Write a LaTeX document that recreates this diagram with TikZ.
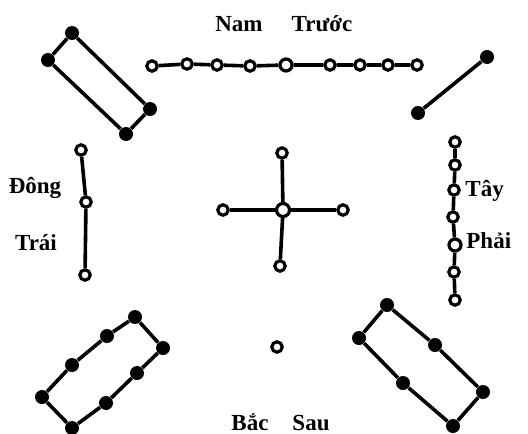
\documentclass[tikz,border=0pt]{standalone}
\usepackage{fontspec}
\setmainfont{Liberation Serif}
\usepackage{tikz}

\tikzset{
  wdot/.style={circle, draw, fill=white, line width=1.6pt, inner sep=0pt, minimum size=5.2pt},
  bdot/.style={circle, fill=black, inner sep=0pt, minimum size=7pt},
  link/.style={line width=1.8pt},
  lbl/.style={font=\fontsize{11.5}{13}\selectfont\bfseries, anchor=base, inner sep=0pt}
}

\begin{document}
\begin{tikzpicture}[x=0.5pt, y=-0.5pt]
    \useasboundingbox (0,0) rectangle (528,433);
    % labels
    \node[lbl] (nam) at (239, 32) {Nam};
    \node[lbl] (truoc) at (322, 32) {Trước};
    \node[lbl] (dong) at (35, 193) {Đông};
    \node[lbl] (trai) at (36, 250) {Trái};
    \node[lbl, anchor=base west] (tay) at (465, 196) {Tây};
    \node[lbl, anchor=base west] (phai) at (466, 248) {Phải};
    \node[lbl] (bac) at (250, 430) {Bắc};
    \node[lbl] (sau) at (311, 430) {Sau};
    % nine (top)
    \node[wdot] (n1) at (152, 66) {};
    \node[wdot] (n2) at (187, 64) {};
    \node[wdot] (n3) at (217, 65) {};
    \node[wdot] (n4) at (250, 66) {};
    \node[wdot, minimum size=6pt] (n5) at (286, 65) {};
    \node[wdot] (n6) at (330, 65) {};
    \node[wdot] (n7) at (360, 65) {};
    \node[wdot] (n8) at (388, 65) {};
    \node[wdot] (n9) at (417, 65) {};
    \draw[link] (n1) -- (n2) -- (n3) -- (n4) -- (n5) -- (n6) -- (n7) -- (n8) -- (n9);
    % four (top left)
    \node[bdot] (f1) at (72, 33) {};
    \node[bdot] (f2) at (48, 60) {};
    \node[bdot] (f3) at (126, 134) {};
    \node[bdot] (f4) at (150, 109) {};
    \draw[link] (f1) -- (f2) -- (f3) -- (f4) -- (f1);
    % two (top right)
    \node[bdot] (t1) at (487, 57) {};
    \node[bdot] (t2) at (418, 113) {};
    \draw[link] (t1) -- (t2);
    % three (left)
    \node[wdot] (h1) at (81, 150) {};
    \node[wdot] (h2) at (86, 202) {};
    \node[wdot] (h3) at (85, 275) {};
    \draw[link] (h1) -- (h2) -- (h3);
    % five (centre)
    \node[wdot, minimum size=6.5pt] (c0) at (283, 210) {};
    \node[wdot] (c1) at (282, 153) {};
    \node[wdot] (c2) at (223, 210) {};
    \node[wdot] (c3) at (343, 210) {};
    \node[wdot] (c4) at (280, 266) {};
    \draw[link] (c1) -- (c0) -- (c4);
    \draw[link] (c2) -- (c0) -- (c3);
    % seven (right)
    \node[wdot] (s1) at (455, 142) {};
    \node[wdot] (s2) at (455, 165) {};
    \node[wdot] (s3) at (454, 190) {};
    \node[wdot] (s4) at (453, 217) {};
    \node[wdot, minimum size=6pt] (s5) at (455, 245) {};
    \node[wdot] (s6) at (454, 272) {};
    \node[wdot] (s7) at (455, 300) {};
    \draw[link] (s1) -- (s2) -- (s3) -- (s4) -- (s5) -- (s6) -- (s7);
    % one (bottom)
    \node[wdot] (o1) at (277, 347) {};
    % eight (bottom left)
    \node[bdot] (e1) at (135, 317) {};
    \node[bdot] (e2) at (163, 348) {};
    \node[bdot] (e3) at (137, 373) {};
    \node[bdot] (e4) at (106, 403) {};
    \node[bdot] (e5) at (72, 428) {};
    \node[bdot] (e6) at (42, 397) {};
    \node[bdot] (e7) at (72, 365) {};
    \node[bdot] (e8) at (107, 336) {};
    \draw[link] (e1) -- (e2) -- (e3) -- (e4) -- (e5) -- (e6) -- (e7) -- (e8) -- (e1);
    % six (bottom right)
    \node[bdot] (x1) at (387, 305) {};
    \node[bdot] (x2) at (435, 345) {};
    \node[bdot] (x3) at (483, 392) {};
    \node[bdot] (x4) at (453, 426) {};
    \node[bdot] (x5) at (403, 383) {};
    \node[bdot] (x6) at (359, 338) {};
    \draw[link] (x1) -- (x2) -- (x3) -- (x4) -- (x5) -- (x6) -- (x1);
\end{tikzpicture}
\end{document}
